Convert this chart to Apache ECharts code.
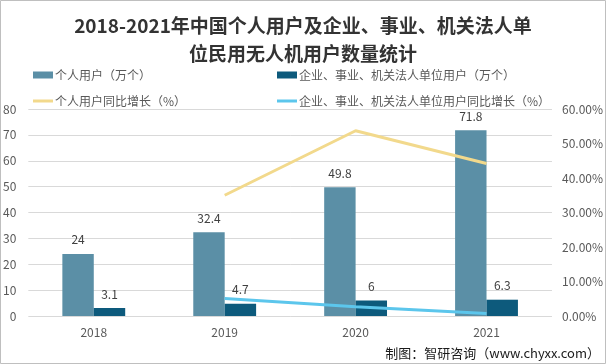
<!DOCTYPE html>
<html><head><meta charset="utf-8">
<script src="https://cdn.jsdelivr.net/npm/echarts@6/dist/echarts.min.js"></script>
<style>html,body{margin:0;padding:0;background:#fff}#c{width:606px;height:364px}</style>
</head><body><div id="c"></div>
<script>
const years = ['2018','2019','2020','2021'];
const personalUsers = [24, 32.4, 49.8, 71.8];
const orgUsers = [3.1, 4.7, 6, 6.3];
const personalGrowth = [null, 35.0, 53.7, 44.2];
const orgGrowth = [null, 5.1, 2.7, 0.7];
const leftTicks = {min: 0, max: 80, interval: 10};
const rightTicks = {min: 0, max: 60, interval: 10};
const names = ['个人用户（万个）','企业、事业、机关法人单位用户（万个）','个人用户同比增长（%）','企业、事业、机关法人单位用户同比增长（%）'];

const chart = echarts.init(document.getElementById('c'));
const txt = '#595959';
const font = '"Noto Sans CJK SC","Noto Sans",sans-serif';
function lg(name, left, top, h){
  return {data:[name], left:left, top:top, icon:'rect', itemWidth:20, itemHeight:h, itemGap:0,
    textStyle:{color:txt, fontSize:12, fontFamily:font, padding:[0,0,0,-3]}, selectedMode:false};
}
chart.setOption({
  backgroundColor:'#fff',
  textStyle:{fontFamily:font},
  title:{text:'2018-2021年中国个人用户及企业、事业、机关法人单\n位民用无人机用户数量统计', left:'center', top:7,
    textStyle:{fontSize:19, fontWeight:'bold', color:'#333', lineHeight:28, fontFamily:font}},
  legend:[lg(names[0],28,64,7), lg(names[1],272,64,7), lg(names[2],28,90,3), lg(names[3],272,90,3)],
  grid:{left:26, right:50, top:109, bottom:48},
  xAxis:{type:'category', data:years, axisLine:{show:false}, axisTick:{show:false},
    axisLabel:{color:txt, fontSize:12, margin:10}},
  yAxis:[
    {type:'value', min:leftTicks.min, max:leftTicks.max, interval:leftTicks.interval,
     axisLabel:{color:txt, fontSize:12, margin:12}, splitLine:{lineStyle:{color:'#d9d9d9'}}, axisLine:{show:false}},
    {type:'value', min:rightTicks.min, max:rightTicks.max, interval:rightTicks.interval,
     axisLabel:{color:txt, fontSize:12, margin:10, formatter:v=>v.toFixed(2)+'%'}, splitLine:{show:false}, axisLine:{show:false}}
  ],
  series:[
    {name:names[0], type:'bar', data:personalUsers, barWidth:'24%', barGap:'0%', itemStyle:{color:'#5B8FA6'},
     label:{show:true, position:'top', color:'#404040', fontSize:12, distance:8}},
    {name:names[1], type:'bar', data:orgUsers, barWidth:'24%', itemStyle:{color:'#0D5A7C'},
     label:{show:true, position:'top', color:'#404040', fontSize:12, distance:8}},
    {name:names[2], type:'line', yAxisIndex:1, data:personalGrowth, showSymbol:false, symbol:'none',
     lineStyle:{color:'#F2D98C', width:3}, itemStyle:{color:'#F2D98C'}},
    {name:names[3], type:'line', yAxisIndex:1, data:orgGrowth, showSymbol:false, symbol:'none',
     lineStyle:{color:'#5CC6EC', width:3}, itemStyle:{color:'#5CC6EC'}}
  ],
  graphic:[
    {type:'rect', shape:{x:0.5,y:0.5,width:605,height:363}, style:{fill:'none', stroke:'#bfbfbf', lineWidth:1}, silent:true},
    {type:'text', right:6, bottom:4, style:{text:'制图：智研咨询（www.chyxx.com）', fill:'#1a1a1a', fontSize:13, fontFamily:font}}
  ]
});
</script></body></html>
